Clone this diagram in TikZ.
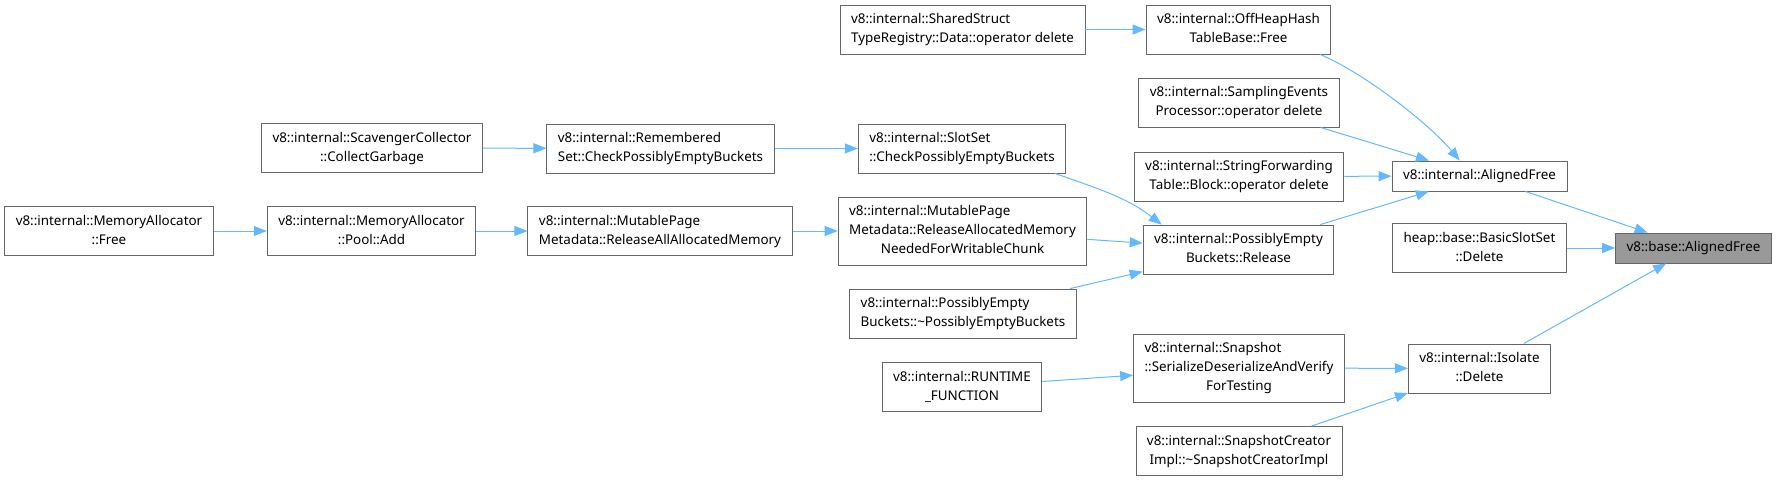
\documentclass[tikz,border=0pt]{standalone}
\usepackage{fontspec}
\setmainfont{Noto Sans}
\usetikzlibrary{arrows.meta}
\definecolor{boxedge}{HTML}{666666}
\definecolor{basefill}{HTML}{999999}
\definecolor{callblue}{HTML}{63B8FF}
\newcommand{\boxtext}[2]{\begin{tabular}{@{}l@{}}#1\multicolumn{1}{@{}c@{}}{#2}\end{tabular}}

\begin{document}
\begin{tikzpicture}[
    x=1pt, y=1pt,
    box/.style={draw=boxedge, line width=0.9pt, fill=#1, inner xsep=11pt, inner ysep=5.5pt,
                font={\fontsize{13.4}{19}\selectfont}},
    box/.default=white,
    arr/.style={-{Triangle[length=13pt, width=10pt]}, draw=callblue, line width=1pt}
]
\useasboundingbox (0,0) rectangle (1777,-481);

\node[box] (mafree) at (109,-231) {\boxtext{v8::internal::MemoryAllocator\\}{::Free}};
\node[box] (pooladd) at (371.5,-231) {\boxtext{v8::internal::MemoryAllocator\\}{::Pool::Add}};
\node[box] (scav) at (372,-148) {\boxtext{v8::internal::ScavengerCollector\\}{::CollectGarbage}};
\node[box] (remset) at (660.5,-148.5) {\boxtext{v8::internal::Remembered\\}{Set::CheckPossiblyEmptyBuckets}};
\node[box] (releaseall) at (660,-231) {\boxtext{v8::internal::MutablePage\\}{Metadata::ReleaseAllAllocatedMemory}};

\node[box] (sharedstruct) at (962.5,-29.5) {\boxtext{v8::internal::SharedStruct\\}{TypeRegistry::Data::operator delete}};
\node[box] (slotset) at (962,-148.5) {\boxtext{v8::internal::SlotSet\\}{::CheckPossiblyEmptyBuckets}};
\node[box] (releasealloc) at (962.5,-231) {\boxtext{v8::internal::MutablePage\\Metadata::ReleaseAllocatedMemory\\}{NeededForWritableChunk}};
\node[box] (pebdtor) at (963,-313.5) {\boxtext{v8::internal::PossiblyEmpty\\}{Buckets::\textasciitilde PossiblyEmptyBuckets}};
\node[box] (runtime) at (962,-387) {\boxtext{v8::internal::RUNTIME\\}{\_FUNCTION}};

\node[box] (offheap) at (1238.5,-29.5) {\boxtext{v8::internal::OffHeapHash\\}{TableBase::Free}};
\node[box] (sampling) at (1239,-102.5) {\boxtext{v8::internal::SamplingEvents\\}{Processor::operator delete}};
\node[box] (stringfwd) at (1239,-176.5) {\boxtext{v8::internal::StringForwarding\\}{Table::Block::operator delete}};
\node[box] (pebrelease) at (1238.5,-249.5) {\boxtext{v8::internal::PossiblyEmpty\\}{Buckets::Release}};
\node[box] (snapshot) at (1239,-368) {\boxtext{v8::internal::Snapshot\\::SerializeDeserializeAndVerify\\}{ForTesting}};
\node[box] (snapcreator) at (1239,-451) {\boxtext{v8::internal::SnapshotCreator\\}{Impl::\textasciitilde SnapshotCreatorImpl}};

\node[box] (ialigned) at (1479.5,-176) {\boxtext{}{v8::internal::AlignedFree}};
\node[box] (basicslot) at (1479.5,-248) {\boxtext{heap::base::BasicSlotSet\\}{::Delete}};
\node[box] (isolate) at (1479.5,-368.5) {\boxtext{v8::internal::Isolate\\}{::Delete}};
\node[box=basefill] (base) at (1693.5,-248) {\boxtext{}{v8::base::AlignedFree}};

\draw[arr] (mafree) -- (pooladd);
\draw[arr] (pooladd) -- (releaseall);
\draw[arr] (scav) -- (remset);
\draw[arr] (remset) -- (slotset);
\draw[arr] (releaseall) -- (releasealloc);
\draw[arr] (slotset.-15) .. controls +(45,-16) and +(-35,27) .. (pebrelease.162.5);
\draw[arr] (releasealloc) -- (pebrelease);
\draw[arr] (pebdtor) -- (pebrelease);
\draw[arr] (sharedstruct) -- (offheap);
\draw[arr] (offheap.-17) .. controls +(45,-19) and +(-30,36) .. (ialigned.142.4);
\draw[arr] (sampling) -- (ialigned);
\draw[arr] (stringfwd) -- (ialigned);
\draw[arr] (pebrelease) -- (ialigned);
\draw[arr] (ialigned) -- (base);
\draw[arr] (basicslot) -- (base);
\draw[arr] (isolate) -- (base);
\draw[arr] (runtime) -- (snapshot);
\draw[arr] (snapshot) -- (isolate);
\draw[arr] (snapcreator) -- (isolate);
\end{tikzpicture}
\end{document}
